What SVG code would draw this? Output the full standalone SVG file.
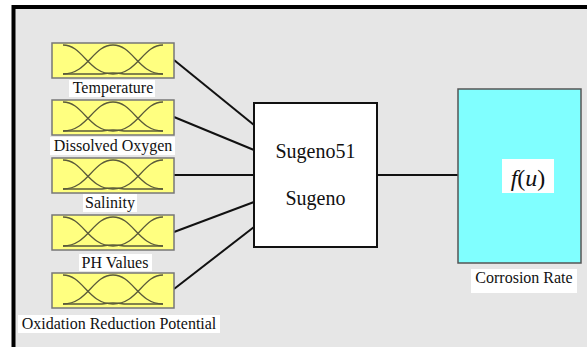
<svg xmlns="http://www.w3.org/2000/svg" xmlns:xlink="http://www.w3.org/1999/xlink" width="587" height="347" viewBox="0 0 587 347">
<style>
.lbl{font-family:"Liberation Serif","Times New Roman",serif;font-size:16px;fill:#111;text-anchor:middle}
.big{font-family:"Liberation Serif","Times New Roman",serif;font-size:20px;fill:#111;text-anchor:middle}
.bg{fill:#ffffff}
.conn{stroke:#111;stroke-width:2;fill:none}
.mfbox{fill:#ffff80;stroke:#777;stroke-width:1.5}
.mf{fill:none;stroke:#5a5a3a;stroke-width:1.3}
</style>
<defs>
<g id="mfshape">
<rect class="mfbox" x="0" y="0" width="122" height="35"/>
<path class="mf" d="M11,2 C31,2 36,31 61,31"/>
<path class="mf" d="M11,31 C36,31 41,2 61,2 C81,2 86,31 111,31"/>
<path class="mf" d="M61,31 C86,31 91,2 111,2"/>
<path class="mf" d="M11,31 H50 Q61,29 72,31 H111"/>
</g>
</defs>
<rect x="0" y="0" width="587" height="347" fill="#ffffff"/>
<rect x="13.5" y="7" width="600" height="360" fill="#e6e6e6" stroke="#000" stroke-width="4"/>
<g id="connectors">
<line class="conn" x1="174" y1="60" x2="254" y2="125"/>
<line class="conn" x1="174" y1="117" x2="254" y2="150"/>
<line class="conn" x1="174" y1="175" x2="254" y2="175"/>
<line class="conn" x1="174" y1="232" x2="254" y2="202"/>
<line class="conn" x1="174" y1="289" x2="254" y2="227"/>
<line class="conn" x1="377" y1="175" x2="458" y2="175"/>
</g>
<g id="temperature">
<use xlink:href="#mfshape" x="52" y="43"/>
<rect class="bg" x="69" y="80" width="86" height="17"/>
<text class="lbl" x="113" y="93">Temperature</text>
</g>
<g id="dissolved-oxygen">
<use xlink:href="#mfshape" x="52" y="100"/>
<rect class="bg" x="50" y="137" width="125" height="18"/>
<text class="lbl" x="113" y="151">Dissolved Oxygen</text>
</g>
<g id="salinity">
<use xlink:href="#mfshape" x="52" y="158"/>
<rect class="bg" x="83" y="194" width="54" height="18"/>
<text class="lbl" x="110" y="208">Salinity</text>
</g>
<g id="ph-values">
<use xlink:href="#mfshape" x="52" y="215"/>
<rect class="bg" x="79" y="254" width="73" height="17"/>
<text class="lbl" x="115" y="268">PH Values</text>
</g>
<g id="orp">
<use xlink:href="#mfshape" x="52" y="273"/>
<rect class="bg" x="18" y="315" width="202" height="18"/>
<text class="lbl" x="119" y="329">Oxidation Reduction Potential</text>
</g>
<g id="sugeno">
<rect x="254" y="103" width="123" height="144" fill="#ffffff" stroke="#111" stroke-width="2"/>
<text class="big" x="315.5" y="158">Sugeno51</text>
<text class="big" x="315.5" y="205">Sugeno</text>
</g>
<g id="corrosion-rate">
<rect x="458" y="89" width="123" height="174" fill="#80ffff" stroke="#555" stroke-width="1.5"/>
<rect class="bg" x="502" y="159" width="52" height="34"/>
<text x="528" y="186" font-family="Liberation Serif, Times New Roman, serif" font-size="24" text-anchor="middle" fill="#111"><tspan font-style="italic">f</tspan>(<tspan font-style="italic">u</tspan>)</text>
<rect class="bg" x="471" y="269" width="106" height="24"/>
<text class="lbl" x="524" y="283">Corrosion Rate</text>
</g>
</svg>
